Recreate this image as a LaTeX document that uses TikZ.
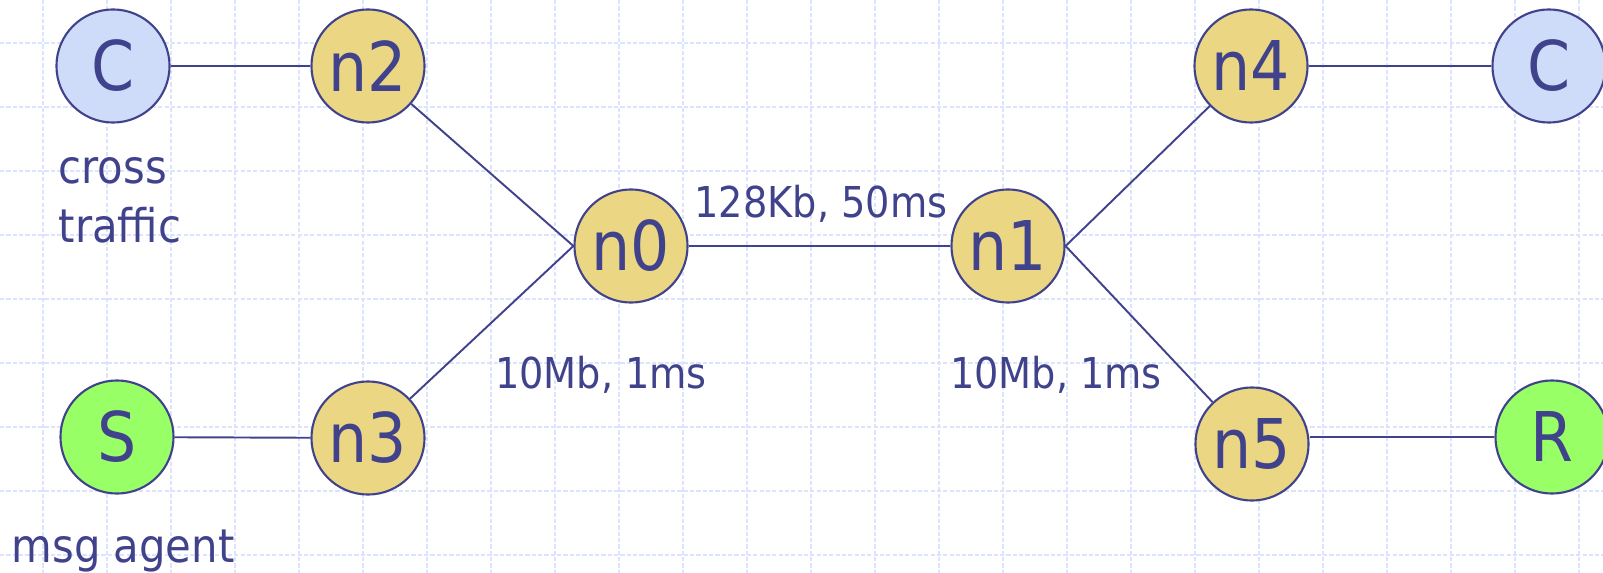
\documentclass[tikz,border=0pt]{standalone}
\usepackage{fontspec}
\setmainfont{DejaVu Sans Condensed}
\usepackage{tikz}
\usetikzlibrary{positioning}
\definecolor{ink}{RGB}{64,67,140}
\definecolor{hostyellow}{RGB}{234,214,131}
\definecolor{crossblue}{RGB}{206,220,250}
\definecolor{agentgreen}{RGB}{153,255,102}
\definecolor{gridblue}{RGB}{218,228,252}
\tikzset{%
  station/.style={draw=ink, circle, minimum size=1.13cm, inner sep=0pt,
    line width=0.6pt, text=ink, font=\fontsize{19.5}{21}\selectfont},% any host
  router/.style={station, fill=hostyellow},% n0 ... n5
  crossnode/.style={station, fill=crossblue},% cross traffic ends
  agent/.style={station, fill=agentgreen},% msg agent ends
  wire/.style={draw=ink, line width=0.55pt},% link between hosts
  linkinfo/.style={text=ink, inner sep=0pt, font=\fontsize{12.1}{14}\selectfont},% bandwidth, delay
  endinfo/.style={linkinfo, font=\fontsize{13.2}{15}\selectfont},% role of an end host
  gridline/.style={gridblue, line width=0.5pt, dash pattern=on 1.2pt off 0.6pt}% paper grid
}

\begin{document}
\begin{tikzpicture}[x=0.01cm, y=-0.01cm]
\useasboundingbox (0,0) rectangle (1603,573);
\clip (0,0) rectangle (1603,573);

\foreach \gx in {43,107,...,1603} \draw[gridline] (\gx,0) -- (\gx,573);
\foreach \gy in {43,107,...,573} \draw[gridline] (0,\gy) -- (1603,\gy);

\node[crossnode] (cl) at (113, 66) {C};
\node[router] (n2) at (368, 66) {n2};
\node[agent] (s) at (117, 437) {S};
\node[router] (n3) at (368, 438) {n3};
\node[router] (n0) at (631, 246) {n0};
\node[router] (n1) at (1008, 246) {n1};
\node[router] (n4) at (1251, 66) {n4};
\node[crossnode] (cr) at (1549, 66) {C};
\node[router] (n5) at (1252, 444) {n5};
\node[agent] (r) at (1552, 437) {R};

\draw[wire] (cl) -- (n2);
\draw[wire] (s) -- (n3);
\draw[wire] (n2) -- (n0.west);
\draw[wire] (n3) -- (n0.west);
\draw[wire] (n0) -- (n1);
\draw[wire] (n1.east) -- (n4);
\draw[wire] (n1.east) -- (n5);
\draw[wire] (n4) -- (cr);
\draw[wire] (r) -- (r -| n5.east);

\node[linkinfo, anchor=base] (bottleneck) at (821, 218) {128Kb, 50ms};
\node[linkinfo, anchor=base] (accessl) at (601, 388) {10Mb, 1ms};
\node[linkinfo, anchor=base] (accessr) at (1056, 388) {10Mb, 1ms};
\node[endinfo, anchor=base west] (cross) at (58, 183) {cross};
\node[endinfo, anchor=base west] (traffic) at (58, 242) {traffic};
\node[endinfo, anchor=base west] (msg) at (11, 562) {msg agent};

\end{tikzpicture}
\end{document}
